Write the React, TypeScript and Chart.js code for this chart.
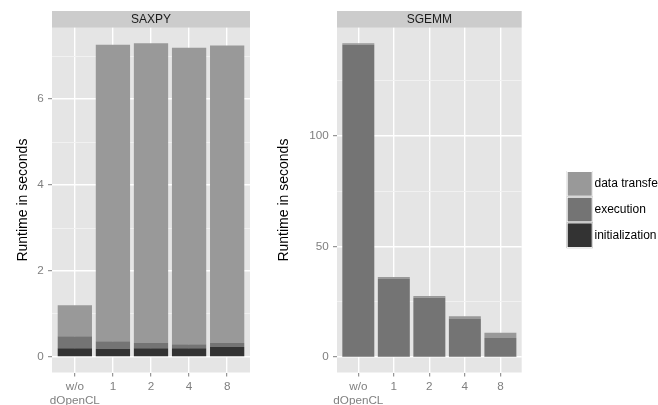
import React, { useEffect, useRef } from 'react';
import { Chart, registerables } from 'chart.js';

Chart.register(...registerables);

// ---- data ----
const CATEGORIES: (string | string[])[] = [['w/o', 'dOpenCL'], '1', '2', '4', '8'];
const SERIES_NAMES = ['initialization', 'execution', 'data transfer'];
const SERIES_COLORS = ['#333333', '#747474', '#999999'];

const SAXPY_INIT = [0.2, 0.18, 0.2, 0.2, 0.23];
const SAXPY_EXEC = [0.28, 0.18, 0.12, 0.09, 0.09];
const SAXPY_DATA = [0.72, 6.91, 6.98, 6.91, 6.93];
const SAXPY_MAJOR = [0, 2, 4, 6];
const SAXPY_MINOR = [1, 3, 5, 7];

const SGEMM_INIT = [0.2, 0.2, 0.2, 0.2, 0.2];
const SGEMM_EXEC = [141.0, 35.0, 26.5, 16.9, 8.3];
const SGEMM_DATA = [0.6, 0.9, 0.8, 1.3, 2.4];
const SGEMM_MAJOR = [0, 50, 100];
const SGEMM_MINOR = [25, 75, 125];

const Y_TITLE = 'Runtime in seconds';
const FONT = "'Liberation Sans', Arial, Helvetica, sans-serif";

const panelPlugin = {
  id: 'ggPanel',
  beforeDraw(chart: any) {
    const { ctx, chartArea: a } = chart;
    ctx.save();
    ctx.fillStyle = '#E5E5E5';
    ctx.fillRect(a.left, a.top, a.right - a.left, a.bottom - a.top);
    const t = chart.titleBlock;
    if (t) {
      ctx.fillStyle = '#CCCCCC';
      ctx.fillRect(t.left, t.top, t.right - t.left, t.bottom - t.top);
    }
    ctx.restore();
  },
};

const legendPlugin = {
  id: 'ggLegend',
  afterDraw(chart: any) {
    const { ctx, chartArea } = chart;
    const x = chartArea.right + 45;
    let y = 171;
    const boxW = 26;
    const boxH = 25.7;
    const items = chart.data.datasets
      .map((d: any) => ({ label: d.label, color: d.backgroundColor }))
      .reverse();
    ctx.save();
    items.forEach((it: any) => {
      ctx.fillStyle = it.color;
      ctx.fillRect(x, y, boxW, boxH);
      ctx.strokeStyle = '#FFFFFF';
      ctx.lineWidth = 1;
      ctx.strokeRect(x + 0.5, y + 0.5, boxW - 1, boxH - 1);
      ctx.fillStyle = '#000000';
      ctx.font = `12px ${FONT}`;
      ctx.textBaseline = 'middle';
      ctx.textAlign = 'left';
      ctx.fillText(it.label, x + boxW + 1.8, y + boxH / 2);
      y += boxH;
    });
    ctx.restore();
  },
};

function makeConfig(
  title: string,
  series: number[][],
  major: number[],
  minor: number[],
  yWidth: number,
  titlePad: number,
  tickPad: number,
  padRight: number,
  withLegend: boolean
): any {
  const totals = series[0].map((_, i) => series.reduce((s, arr) => s + arr[i], 0));
  const top = Math.max(...totals);
  const allTicks = [...major, ...minor].sort((a, b) => a - b);
  const isMajor = (v: any) => major.includes(v);
  return {
    type: 'bar',
    data: {
      datasets: series.map((vals, k) => ({
        label: SERIES_NAMES[k],
        data: vals.map((v, i) => ({ x: i + 1, y: v })),
        backgroundColor: SERIES_COLORS[k],
        borderWidth: 0,
        barPercentage: 0.9,
        categoryPercentage: 1,
      })),
    },
    options: {
      responsive: false,
      maintainAspectRatio: false,
      animation: false,
      devicePixelRatio: 1,
      layout: { padding: { top: 11, left: 0, right: padRight, bottom: 0 } },
      plugins: {
        legend: { display: false },
        tooltip: { enabled: false },
        title: {
          display: true,
          text: title,
          fullSize: false,
          color: '#1A1A1A',
          font: { family: FONT, size: 12, weight: 'normal', lineHeight: 1.2 },
          padding: { top: 1.2, bottom: 1.1 },
        },
      },
      scales: {
        x: {
          type: 'linear',
          min: 0.4,
          max: CATEGORIES.length + 0.6,
          bounds: 'data',
          offset: false,
          stacked: true,
          afterBuildTicks: (s: any) => {
            s.ticks = CATEGORIES.map((_, i) => ({ value: i + 1 }));
          },
          afterFit: (s: any) => {
            s.height = 32.5;
          },
          border: { display: false },
          grid: {
            offset: false,
            color: '#FFFFFF',
            lineWidth: 1.4,
            tickColor: '#7F7F7F',
            tickLength: 4,
            tickWidth: 1,
          },
          ticks: {
            autoSkip: false,
            maxRotation: 0,
            minRotation: 0,
            padding: 3,
            color: '#7F7F7F',
            font: { family: FONT, size: 11.7, lineHeight: 1.2 },
            callback: (v: any) => CATEGORIES[Math.round(v) - 1],
          },
        },
        y: {
          type: 'linear',
          min: -0.05 * top,
          max: 1.05 * top,
          bounds: 'data',
          stacked: true,
          afterBuildTicks: (s: any) => {
            s.ticks = allTicks.map((v) => ({ value: v }));
          },
          afterFit: (s: any) => {
            s.width = yWidth;
          },
          border: { display: false },
          grid: {
            color: (c: any) => (isMajor(c.tick && c.tick.value) ? '#FFFFFF' : '#F2F2F2'),
            lineWidth: (c: any) => (isMajor(c.tick && c.tick.value) ? 1.4 : 0.9),
            tickColor: (c: any) => (isMajor(c.tick && c.tick.value) ? '#7F7F7F' : 'rgba(0,0,0,0)'),
            tickLength: 4,
            tickWidth: 1,
          },
          ticks: {
            autoSkip: false,
            padding: tickPad,
            color: '#7F7F7F',
            font: { family: FONT, size: 11.7, lineHeight: 1.2 },
            callback: (v: any) => (isMajor(v) ? String(v) : ''),
          },
          title: {
            display: true,
            text: Y_TITLE,
            color: '#000000',
            font: { family: FONT, size: 14, lineHeight: 1.2 },
            padding: { top: titlePad, bottom: 0 },
          },
        },
      },
    },
    plugins: withLegend ? [panelPlugin, legendPlugin] : [panelPlugin],
  };
}

export default function App() {
  const leftRef = useRef<HTMLCanvasElement>(null);
  const rightRef = useRef<HTMLCanvasElement>(null);

  useEffect(() => {
    const left = new Chart(
      leftRef.current as HTMLCanvasElement,
      makeConfig('SAXPY', [SAXPY_INIT, SAXPY_EXEC, SAXPY_DATA], SAXPY_MAJOR, SAXPY_MINOR, 52, 15, 4.2, 12, false)
    );
    const right = new Chart(
      rightRef.current as HTMLCanvasElement,
      makeConfig('SGEMM', [SGEMM_INIT, SGEMM_EXEC, SGEMM_DATA], SGEMM_MAJOR, SGEMM_MINOR, 75, 13.8, 4.2, 136.3, true)
    );
    return () => {
      left.destroy();
      right.destroy();
    };
  }, []);

  return (
    <div
      style={{
        position: 'fixed',
        left: 0,
        top: 0,
        width: 658,
        height: 405,
        overflow: 'hidden',
        background: '#FFFFFF',
      }}
    >
      <canvas
        ref={leftRef}
        width={262}
        height={405}
        style={{ position: 'absolute', left: 0, top: 0, width: 262, height: 405, display: 'block' }}
      />
      <canvas
        ref={rightRef}
        width={396}
        height={405}
        style={{ position: 'absolute', left: 262, top: 0, width: 396, height: 405, display: 'block' }}
      />
    </div>
  );
}
